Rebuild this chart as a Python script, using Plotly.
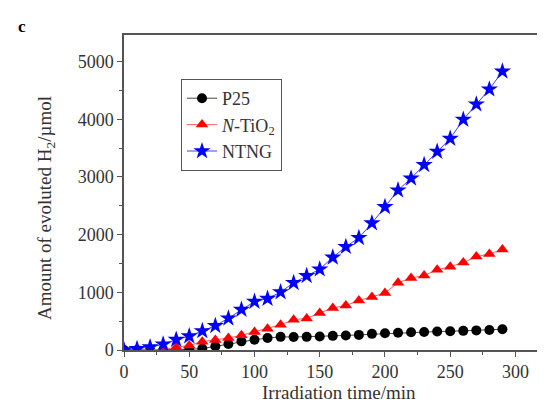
import plotly.graph_objects as go

time_min = [0, 10, 20, 30, 40, 50, 60, 70, 80, 90, 100, 110, 120, 130, 140,
            150, 160, 170, 180, 190, 200, 210, 220, 230, 240, 250, 260, 270, 280, 290]
p25 = [0, 0, 0, 0, 0, 10, 25, 65, 105, 150, 178, 208, 228, 225, 228,
       235, 245, 252, 262, 280, 290, 300, 308, 312, 320, 325, 332, 340, 347, 360]
n_tio2 = [0, 0, 0, 10, 45, 80, 145, 172, 208, 255, 312, 369, 438, 525, 548,
          640, 730, 772, 860, 920, 990, 1165, 1250, 1290, 1390, 1445, 1515, 1620, 1665, 1740]
ntng = [0, 20, 50, 100, 180, 240, 330, 420, 550, 700, 840, 890, 1005, 1165, 1285,
        1400, 1605, 1790, 1945, 2200, 2480, 2770, 2975, 3210, 3440, 3665, 3995, 4260, 4520, 4830]

x_ticks = [0, 50, 100, 150, 200, 250, 300]
y_ticks = [0, 1000, 2000, 3000, 4000, 5000]

serif = "Liberation Serif"
W, H = 545, 403
ML, MR, MT, MB = 116, 1, 27, 61
PW, PH = W - ML - MR, H - MT - MB

fig = go.Figure()
fig.add_trace(go.Scatter(
    x=time_min, y=p25, name="P25", mode="lines+markers",
    line=dict(color="#444444", width=1),
    marker=dict(symbol="circle", size=10, color="black"),
))
fig.add_trace(go.Scatter(
    x=time_min, y=n_tio2, name="<i>N</i>-TiO<sub>2</sub>", mode="lines+markers",
    line=dict(color="#ff6060", width=1),
    marker=dict(symbol="triangle-up", size=11, color="#ff0000"),
))
fig.add_trace(go.Scatter(
    x=time_min, y=ntng, name="NTNG", mode="lines+markers",
    line=dict(color="#4040ff", width=1),
    marker=dict(symbol="star", size=13, color="#0000ff"),
))

axis_common = dict(
    showline=True, linecolor="#555555", linewidth=1.5, mirror=True,
    showgrid=False, zeroline=False, automargin=False,
    ticks="outside", ticklen=5, tickwidth=1, tickcolor="#555555",
    tickfont=dict(family=serif, size=18, color="#333333"),
    minor=dict(ticks="outside", ticklen=3, tickcolor="#555555", tickwidth=1),
)

fig.update_xaxes(range=[0, 328], tickvals=x_ticks, minor_dtick=25, **axis_common)
fig.update_yaxes(range=[0, 5460], tickvals=y_ticks, minor_dtick=500, **axis_common)


def px_x(px):
    return (px - ML) / PW


def px_y(py):
    return (H - MB - py) / PH


fig.update_layout(
    width=W, height=H,
    margin=dict(l=ML, r=MR, t=MT, b=MB),
    paper_bgcolor="white", plot_bgcolor="white",
    showlegend=True,
    legend=dict(
        x=px_x(173), y=px_y(71), xanchor="left", yanchor="top",
        bordercolor="#555555", borderwidth=1, bgcolor="white",
        font=dict(family=serif, size=18, color="#333333"),
        tracegroupgap=0, itemwidth=30,
    ),
    annotations=[
        dict(text="<b>c</b>", x=px_x(14), y=px_y(18), xref="paper", yref="paper",
             xanchor="center", yanchor="middle", showarrow=False,
             font=dict(family=serif, size=17, color="black")),
        dict(text="Irradiation time/min", x=px_x(331), y=px_y(384), xref="paper", yref="paper",
             xanchor="center", yanchor="middle", showarrow=False,
             font=dict(family=serif, size=19, color="#333333")),
        dict(text="Amount of evoluted H<sub>2</sub>/µmol", x=px_x(38), y=px_y(200),
             xref="paper", yref="paper", textangle=-90,
             xanchor="center", yanchor="middle", showarrow=False,
             font=dict(family=serif, size=19, color="#333333")),
    ],
)

fig.write_html("out.html")
